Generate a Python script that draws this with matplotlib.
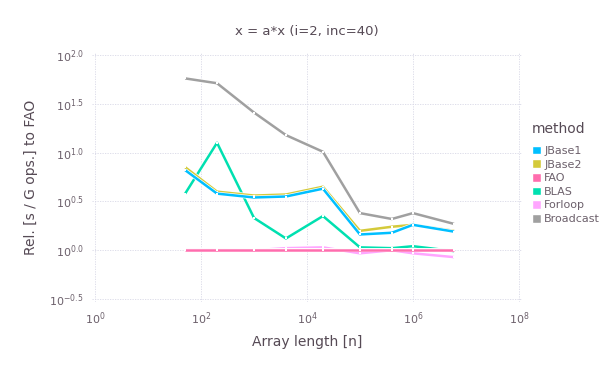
import numpy as np
import matplotlib
matplotlib.use("Agg")
import matplotlib.pyplot as plt
import matplotlib.patheffects as pe
from matplotlib.patches import Patch

plt.rcParams["mathtext.default"] = "regular"

# array lengths
n = [50, 200, 1000, 4000, 20000, 100000, 400000, 1000000, 6000000]

# relative time per G ops to FAO
methods = ["JBase1", "JBase2", "FAO", "BLAS", "Forloop", "Broadcast"]
jbase1 = [6.61, 3.80, 3.47, 3.55, 4.27, 1.45, 1.51, 1.82, 1.55]
jbase2 = [7.08, 3.98, 3.63, 3.72, 4.47, 1.58, 1.74, 1.82, 1.58]
fao = [1.0, 1.0, 1.0, 1.0, 1.0, 1.0, 1.0, 1.0, 1.0]
blas = [3.80, 12.6, 2.14, 1.32, 2.24, 1.07, 1.05, 1.10, 0.98]
forloop = [1.02, 1.02, 1.0, 1.05, 1.07, 0.93, 1.0, 0.93, 0.85]
broadcast = [57.5, 51.3, 25.7, 15.1, 10.2, 2.40, 2.09, 2.40, 1.86]

series = [jbase1, jbase2, fao, blas, forloop, broadcast]
colors = ["#00BFFF", "#D4CA3A", "#FF6DAE", "#00E0B0", "#FFA6FF", "#A0A0A0"]

yticks = [-0.5, 0.0, 0.5, 1.0, 1.5, 2.0]
xticks = [0, 2, 4, 6, 8]

label_col = "#564A55"
tick_col = "#6C606B"

fig = plt.figure(figsize=(6.05, 3.78), dpi=100)
W, H = 605, 378
l, r, t, b = 92, 522, 52, 302
ax = fig.add_axes([l / W, 1 - b / H, (r - l) / W, (b - t) / H])

for vals, col, name in reversed(list(zip(series, colors, methods))):
    ax.plot(n, vals, color=col, linewidth=1.8, solid_capstyle="butt",
            path_effects=[pe.Stroke(linewidth=2.8, foreground="white"), pe.Normal()])
    ax.plot(n, vals, linestyle="none", marker="s", markersize=1.5,
            markerfacecolor="white", markeredgewidth=0)

ax.set_xscale("log")
ax.set_yscale("log")
ax.set_xlim(10 ** -0.06, 10 ** 8.06)
ax.set_ylim(10 ** -0.53, 10 ** 2.03)

ax.set_xticks([10.0 ** k for k in xticks])
ax.set_xticklabels([r"$10^{%d}$" % k for k in xticks])
ax.set_yticks([10.0 ** k for k in yticks])
ax.set_yticklabels([r"$10^{%.1f}$" % k for k in yticks])
ax.minorticks_off()
ax.tick_params(length=0, labelsize=8, labelcolor=tick_col, pad=6)

for s in ax.spines.values():
    s.set_visible(False)
ax.grid(True, color="#D8D8E6", linewidth=0.6, linestyle=(0, (1.5, 1.5)))
ax.set_axisbelow(True)

ax.set_xlabel("Array length [n]", fontsize=10, color=label_col, labelpad=6)
ax.set_ylabel("Rel. [s / G ops.] to FAO", fontsize=10, color=label_col, labelpad=8)
ax.set_title("x = a*x (i=2, inc=40)", fontsize=9.5, color=label_col, pad=12)

handles = [Patch(facecolor=c, edgecolor="white", label=m) for m, c in zip(methods, colors)]
leg = fig.legend(handles=handles, title="method", loc="upper left",
                 bbox_to_anchor=(522 / W, 1 - 112 / H), frameon=False,
                 fontsize=8, title_fontsize=10, handlelength=0.8, handleheight=0.8,
                 handletextpad=0.3, labelspacing=0.32, labelcolor=tick_col)
leg.get_title().set_color(label_col)
leg._legend_box.align = "left"
leg._legend_box.sep = 7

fig.savefig("out.png", dpi=100)
